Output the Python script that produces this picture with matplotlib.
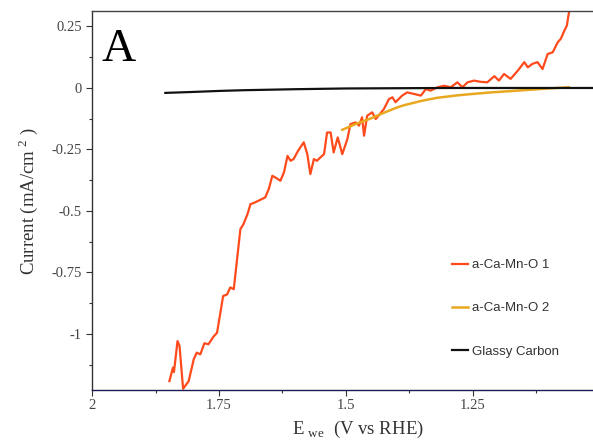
import matplotlib
matplotlib.use("Agg")
import matplotlib.pyplot as plt
from matplotlib.ticker import FixedLocator

plt.rcParams['font.family'] = ['Liberation Serif', 'DejaVu Serif']
plt.rcParams['mathtext.fontset'] = 'custom'
plt.rcParams['mathtext.rm'] = 'Liberation Serif'

# a-Ca-Mn-O 1 (orange)
e1 = [1.848, 1.841, 1.839, 1.832, 1.828, 1.821, 1.810, 1.800, 1.794, 1.787, 1.779, 1.771,
      1.761, 1.754, 1.742, 1.734, 1.728, 1.721, 1.708, 1.702, 1.694, 1.688, 1.682, 1.669,
      1.659, 1.652, 1.645, 1.639, 1.629, 1.622, 1.615, 1.609, 1.603, 1.596, 1.590, 1.583,
      1.576, 1.570, 1.563, 1.557, 1.550, 1.543, 1.537, 1.530, 1.524, 1.516, 1.507, 1.497,
      1.491, 1.481, 1.474, 1.468, 1.464, 1.458, 1.448, 1.441, 1.433, 1.425, 1.415, 1.408,
      1.402, 1.389, 1.379, 1.366, 1.352, 1.342, 1.333, 1.319, 1.306, 1.293, 1.280, 1.270,
      1.260, 1.247, 1.234, 1.221, 1.207, 1.198, 1.188, 1.175, 1.161, 1.148, 1.141, 1.132,
      1.122, 1.112, 1.102, 1.092, 1.082, 1.076, 1.069, 1.064, 1.061, 1.059]
i1 = [-1.192, -1.137, -1.155, -1.029, -1.049, -1.223, -1.192, -1.103, -1.076, -1.083, -1.038, -1.042,
      -1.011, -0.995, -0.846, -0.839, -0.811, -0.818, -0.574, -0.554, -0.513, -0.472, -0.468, -0.455,
      -0.445, -0.411, -0.357, -0.364, -0.377, -0.343, -0.276, -0.296, -0.289, -0.262, -0.242, -0.221,
      -0.269, -0.350, -0.289, -0.296, -0.282, -0.269, -0.181, -0.181, -0.262, -0.201, -0.269, -0.208,
      -0.147, -0.140, -0.153, -0.119, -0.194, -0.113, -0.099, -0.126, -0.106, -0.086, -0.045, -0.038,
      -0.058, -0.031, -0.018, -0.024, -0.031, -0.004, -0.011, 0.003, 0.009, 0.003, 0.023, 0.003,
      0.023, 0.030, 0.025, 0.023, 0.048, 0.030, 0.057, 0.037, 0.070, 0.105, 0.084, 0.098,
      0.105, 0.077, 0.138, 0.145, 0.186, 0.200, 0.233, 0.254, 0.294, 0.315]

# a-Ca-Mn-O 2 (yellow)
e2 = [1.507, 1.480, 1.451, 1.430, 1.400, 1.385, 1.350, 1.320, 1.280, 1.254, 1.214, 1.170, 1.135, 1.100, 1.060]
i2 = [-0.170, -0.146, -0.124, -0.105, -0.080, -0.070, -0.052, -0.040, -0.030, -0.025, -0.018, -0.012, -0.007, -0.002, 0.003]

# Glassy Carbon (black)
e3 = [1.856, 1.80, 1.75, 1.70, 1.60, 1.50, 1.40, 1.30, 1.20, 1.10, 1.0125]
i3 = [-0.020, -0.016, -0.012, -0.009, -0.005, -0.002, -0.001, 0.000, 0.000, 0.000, 0.000]

xticks = [2, 1.75, 1.5, 1.25]
xticklabels = ['2', '1.75', '1.5', '1.25']
yticks = [0.25, 0, -0.25, -0.5, -0.75, -1]
yticklabels = ['0.25', '0', '-0.25', '-0.5', '-0.75', '-1']

fig = plt.figure(figsize=(5.93, 4.47), dpi=100)
ax = fig.add_axes([0.1557, 0.1275, 0.8443, 0.8468])

l1, = ax.plot(e1, i1, color='#FF4A1C', lw=1.6, label='a-Ca-Mn-O 1')
l2, = ax.plot(e2, i2, color='#E8A820', lw=1.8, label='a-Ca-Mn-O 2')
l3, = ax.plot(e3, i3, color='#111111', lw=1.6, label='Glassy Carbon')

ax.set_xlim(2, 1.0125)
ax.set_ylim(-1.228, 0.311)
ax.set_xticks(xticks)
ax.set_xticklabels(xticklabels)
ax.set_yticks(yticks)
ax.set_yticklabels(yticklabels)
ax.xaxis.set_minor_locator(FixedLocator([1.875, 1.625, 1.375, 1.125]))
ax.yaxis.set_minor_locator(FixedLocator([0.125, -0.125, -0.375, -0.625, -0.875, -1.125]))

ax.tick_params(which='major', direction='out', length=4.5, width=0.8, colors='#333333',
               labelsize=10.5, labelcolor='#444444', pad=3)
ax.tick_params(which='minor', direction='out', length=2.5, width=0.8, colors='#333333')
ax.tick_params(axis='x', pad=2)

ax.spines['right'].set_visible(False)
ax.spines['left'].set_color('#333333')
ax.spines['top'].set_color('#444444')
ax.spines['bottom'].set_color('#1c1c55')
for s in ['left', 'top', 'bottom']:
    ax.spines[s].set_linewidth(1.0)

ax.set_ylabel(r'Current (mA/cm$^{\ 2}$ )', fontsize=13.5, color='#333333', labelpad=8)
ax.set_xlabel(r'E$_{\ \mathrm{we}}$  (V vs RHE)', fontsize=13.5, color='#333333', labelpad=3)
ax.xaxis.set_label_coords(0.53, -0.075)

ax.text(102 / 593, 1 - 61 / 447, 'A', transform=fig.transFigure, fontsize=34,
        color='black', ha='left', va='baseline')

leg = ax.legend(handles=[l1, l2, l3], loc='upper left', frameon=False,
                bbox_to_anchor=(452 / 593, 1 - 259 / 447), bbox_transform=fig.transFigure,
                prop={'family': 'Liberation Sans', 'size': 9.5}, handlelength=1.25,
                handletextpad=0.3, labelspacing=2.35, borderpad=0, borderaxespad=0)
for t in leg.get_texts():
    t.set_color('#333333')

fig.savefig('out.png', dpi=100)
